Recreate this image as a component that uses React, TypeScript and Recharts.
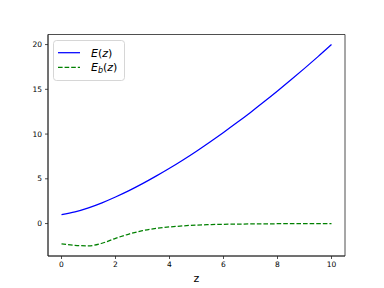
import React from 'react';
import { LineChart, Line, XAxis, YAxis, Legend, ReferenceArea } from 'recharts';

const zValues = [0, 0.5, 1, 1.5, 2, 2.5, 3, 3.5, 4, 4.5, 5, 5.5, 6, 6.5, 7, 7.5, 8, 8.5, 9, 9.5, 10];
const eValues = [1.0, 1.31, 1.76, 2.32, 2.97, 3.68, 4.46, 5.3, 6.18, 7.11, 8.09, 9.12, 10.18, 11.28, 12.42, 13.6, 14.81, 16.06, 17.34, 18.65, 20.0];
const ebValues = [-2.26, -2.44, -2.49, -2.2, -1.65, -1.17, -0.8, -0.55, -0.38, -0.26, -0.17, -0.12, -0.08, -0.06, -0.04, -0.03, -0.02, -0.015, -0.01, -0.005, 0];
const xTicks = [0, 2, 4, 6, 8, 10];
const yTicks = [0, 5, 10, 15, 20];
const xDomain = [-0.5, 10.5];
const yDomain = [-3.625, 21.125];

const data = zValues.map((z, i) => ({ z, E: eValues[i], Eb: ebValues[i] }));

const FONT = 'DejaVu Sans, sans-serif';
const AX = '#222';

const renderLegend = () => (
  <svg width={73} height={42} style={{ display: 'block' }}>
    <rect x={0.5} y={0.5} width={71} height={40} rx={3} ry={3} fill="#fff" fillOpacity={0.8} stroke="#ccc" strokeWidth={0.8} />
    <line x1={5} x2={27} y1={12.7} y2={12.7} stroke="#0000ff" strokeWidth={1.25} />
    <line x1={5} x2={27} y1={27.3} y2={27.3} stroke="#008000" strokeWidth={1.25} strokeDasharray="4.6 2" />
    <text x={38} y={16.5} fontFamily={FONT} fontSize={11} fill="#000">
      <tspan fontStyle="italic">E</tspan>
      <tspan>(</tspan>
      <tspan fontStyle="italic">z</tspan>
      <tspan>)</tspan>
    </text>
    <text x={38} y={31} fontFamily={FONT} fontSize={11} fill="#000">
      <tspan fontStyle="italic">E</tspan>
      <tspan fontStyle="italic" fontSize={8} dy={2}>b</tspan>
      <tspan dy={-2}>(</tspan>
      <tspan fontStyle="italic">z</tspan>
      <tspan>)</tspan>
    </text>
  </svg>
);

export default function App() {
  return (
    <div style={{ position: 'absolute', left: 0, top: 0, width: 384, height: 288, background: '#fff' }}>
      <LineChart width={384} height={288} data={data} margin={{ top: 34.5, right: 39, left: 0, bottom: 0 }}>
        <XAxis
          dataKey="z"
          type="number"
          domain={xDomain}
          ticks={xTicks}
          allowDataOverflow
          height={32}
          tickSize={3}
          tickMargin={3}
          axisLine={{ stroke: AX, strokeWidth: 0.8 }}
          tickLine={{ stroke: AX, strokeWidth: 0.8 }}
          tick={{ fontSize: 7.5, fill: '#000', fontFamily: FONT }}
          label={{ value: 'z', position: 'insideBottom', offset: 6, fontSize: 11, fill: '#000', fontFamily: FONT }}
        />
        <YAxis
          type="number"
          domain={yDomain}
          ticks={yTicks}
          allowDataOverflow
          width={48}
          tickSize={3}
          tickMargin={3}
          axisLine={{ stroke: AX, strokeWidth: 0.8 }}
          tickLine={{ stroke: AX, strokeWidth: 0.8 }}
          tick={{ fontSize: 7.5, fill: '#000', fontFamily: FONT }}
        />
        <ReferenceArea
          x1={xDomain[0]}
          x2={xDomain[1]}
          y1={yDomain[0]}
          y2={yDomain[1]}
          fill="none"
          stroke={AX}
          strokeWidth={0.8}
          ifOverflow="visible"
        />
        <Legend
          layout="vertical"
          align="center"
          verticalAlign="middle"
          content={renderLegend}
          wrapperStyle={{ position: 'absolute', left: 53, top: 39.5, width: 73, height: 42 }}
        />
        <Line dataKey="E" type="monotone" stroke="#0000ff" strokeWidth={1.25} dot={false} isAnimationActive={false} />
        <Line dataKey="Eb" type="monotone" stroke="#008000" strokeWidth={1.25} strokeDasharray="4.6 2" dot={false} isAnimationActive={false} />
      </LineChart>
    </div>
  );
}
